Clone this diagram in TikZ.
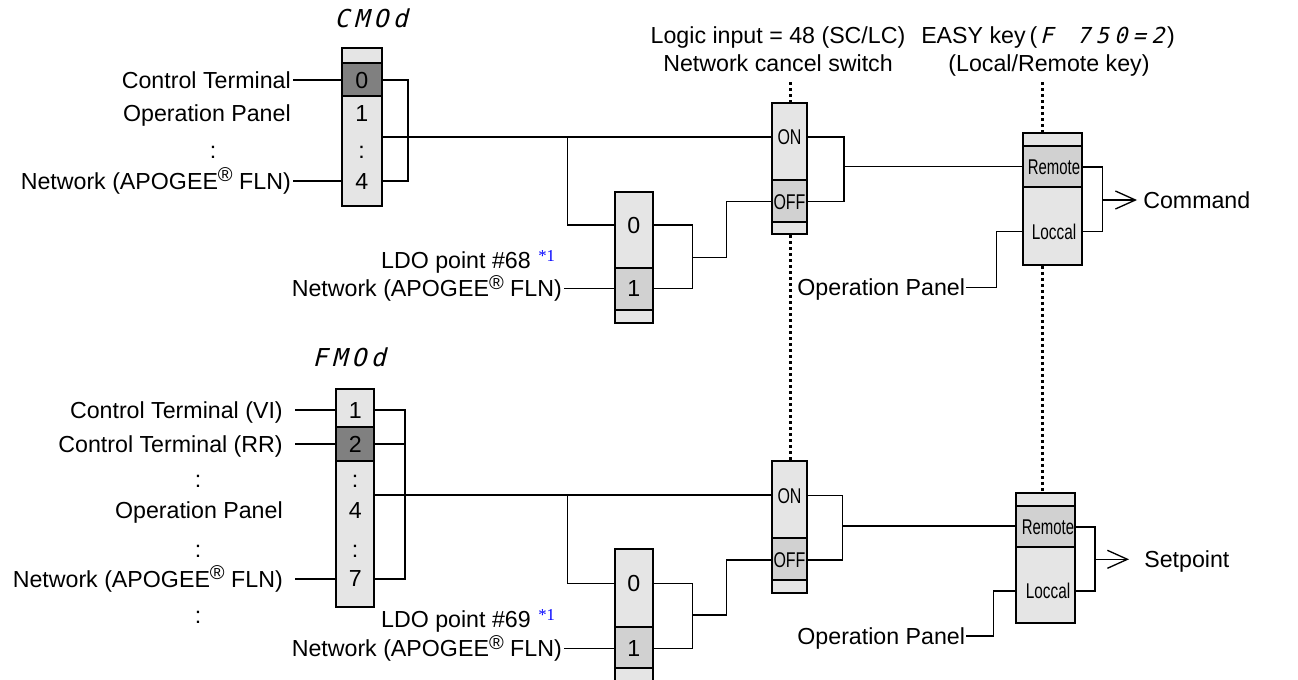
\documentclass[tikz,border=0pt]{standalone}
\usepackage{fontspec}
\setmainfont{Liberation Sans}
\newfontfamily\segfont[FakeSlant=0.25]{DejaVu Sans Mono}
\newfontfamily\notefont{Liberation Serif}
\usetikzlibrary{fit,arrows.meta}
\newcommand\sgA[1]{\makebox[14.6pt]{#1}}
\newcommand\sgB[1]{\makebox[13.9pt]{#1}}
\newcommand\segbig[1]{{\segfont\fontsize{18.5}{20}\selectfont #1}}
\newcommand\segsmall[1]{{\segfont\fontsize{16.5}{18}\selectfont #1}}
\newcommand\nar[1]{\scalebox{0.75}[1]{#1}}
\newcommand\regm{\raisebox{5.5pt}{\fontsize{15}{15}\selectfont\textregistered}}
\definecolor{lt}{gray}{0.9}
\definecolor{md}{gray}{0.82}
\definecolor{dk}{gray}{0.5}
\begin{document}
\begin{tikzpicture}[x=0.75pt,y=-0.75pt,
  lbl/.style={font=\fontsize{17.4}{20}\selectfont, inner ysep=0pt, inner xsep=1.5pt, text height=12.4pt, text depth=0pt},
  dig/.style={font=\fontsize{17.4}{20}\selectfont, inner sep=0pt, text height=12.4pt, text depth=0pt},
  nlbl/.style={font=\fontsize{16}{18}\selectfont, inner sep=0pt, text height=11.5pt, text depth=0pt},
  seg/.style={inner sep=0pt},
  note/.style={text=blue, font=\notefont\fontsize{12.5}{14}\selectfont, inner sep=0pt, anchor=base west},
  cell/.style={draw, line width=1.3pt, inner sep=0pt},
  wire/.style={line width=1pt},
  arr/.style={wire, -{Straight Barb[length=15pt, width=13.5pt, line width=1pt]}},
  dots/.style={line width=2.25pt, dash pattern=on 2.25pt off 2.25pt}]
\path[fill=white] (0,0) rectangle (1298,679);
\useasboundingbox (0,0) rectangle (1298,679);

% ---------------- titles
\node[lbl] (t1) at (778,35) {Logic input = 48 (SC/LC)};
\node[lbl] (t2) at (778,63) {Network cancel switch};
\node[lbl] (t3) at (1048,35) {EASY key\,(\segsmall{\sgB{F}\sgB{}\sgB{7}\sgB{5}\sgB{0}\sgB{=}\sgB{2}})};
\node[lbl] (t4) at (1049,63) {(Local/Remote key)};

% ================= TOP SECTION
\node[seg] (cmodl) at (371,18) {\segbig{\sgA{C}\sgA{M}\sgA{O}\sgA{d}}};
\node[cell, fill=lt, fit={(341.7,48.3)(381.7,63.3)}] (cmA) {};
\node[cell, fill=dk, fit={(341.7,63.3)(381.7,96)}] (cmB) {};
\node[cell, fill=lt, fit={(341.7,96)(381.7,205.7)}] (cmC) {};
\node[dig] (cm0) at (361.7,80) {0};
\node[dig] (cm1) at (361.7,113) {1};
\node[dig] (cmd) at (361.7,150) {:};
\node[dig] (cm4) at (361.7,181) {4};

\node[lbl, anchor=east] (ctA) at (293,80) {Control Terminal};
\node[lbl, anchor=east] (opA) at (293,113) {Operation Panel};
\node[lbl] (dA) at (213,150) {:};
\node[lbl, anchor=east] (nwA) at (293,181) {Network (APOGEE\regm\ FLN)};

\draw[wire] (ctA.east) -- (ctA.east -| cmB.west);
\draw[wire] (nwA.east) -- (nwA.east -| cmC.west);
\coordinate (cmV) at (408,137);
\draw[wire] (cm0 -| cmB.east) -| (cmV) |- (cm4 -| cmC.east);

% small box A
\node[cell, fill=lt, fit={(615,191.7)(652.7,268)}] (sbA1) {};
\node[cell, fill=md, fit={(615,268)(652.7,310)}] (sbA2) {};
\node[cell, fill=lt, fit={(615,310)(652.7,322.7)}] (sbA3) {};
\node[dig] (s0A) at (633.8,225) {0};
\node[dig] (s1A) at (633.8,288.3) {1};
\node[lbl, anchor=east] (ldoA) at (533,260) {LDO point \#68};
\node[note] (stA) at (538,261) {*1};
\node[lbl, anchor=east] (nwA2) at (564,288.3) {Network (APOGEE\regm\ FLN)};

% switch A
\node[cell, fill=lt, fit={(771.7,102.7)(807.3,180)}] (swA1) {};
\node[cell, fill=md, fit={(771.7,180)(807.3,221.7)}] (swA2) {};
\node[cell, fill=lt, fit={(771.7,221.7)(807.3,234.3)}] (swA3) {};
\node[nlbl] (onA) at (789.5,137) {\nar{ON}};
\node[nlbl] (offA) at (789.5,201.7) {\nar{OFF}};

% remote A
\node[cell, fill=lt, fit={(1023.3,133.3)(1082.3,146)}] (rmA1) {};
\node[cell, fill=md, fit={(1023.3,146)(1082.3,187.3)}] (rmA2) {};
\node[cell, fill=lt, fit={(1023.3,187.3)(1082.3,265)}] (rmA3) {};
\node[nlbl] (remA) at (1054,167) {\scalebox{0.7}[1]{Remote}};
\node[nlbl] (locA) at (1054,231.7) {\scalebox{0.72}[1]{Loccal}};
\node[lbl, anchor=west, inner xsep=4.5pt] (cmdA) at (1137,200) {Command};
\node[lbl, anchor=east, inner xsep=0.5pt] (opA2) at (966,287.3) {Operation Panel};

% wires A
\draw[wire] (cmC.east |- cmV) -- (cmV -| swA1.west);
\coordinate (brA) at (567.7,137);
\draw[wire] (brA) |- (s0A -| sbA1.west);
\draw[wire] (nwA2.east) -- (nwA2.east -| sbA2.west);
\coordinate (sjA) at (692.3,257.3);
\coordinate (sjA2) at (726.7,201.7);
\draw[wire] (s0A -| sbA1.east) -| (sjA) |- (s1A -| sbA2.east);
\draw[wire] (sjA) -| (sjA2) -- (offA -| swA2.west);
\coordinate (rjA) at (844,166.7);
\draw[wire] (onA -| swA1.east) -| (rjA) |- (offA -| swA2.east);
\draw[wire] (rjA) -- (rjA -| rmA2.west);
\coordinate (ojA) at (1102.3,200);
\draw[wire] (remA -| rmA2.east) -| (ojA) |- (locA -| rmA3.east);
\draw[arr] (ojA) -- (cmdA.west);
\coordinate (pjA) at (996.7,287.3);
\draw[wire] (opA2.east) -| (locA -| pjA) -- (locA -| rmA3.west);

% ================= BOTTOM SECTION
\node[seg] (fmodl) at (349,357) {\segbig{\sgA{F}\sgA{M}\sgA{O}\sgA{d}}};
\node[cell, fill=lt, fit={(336,389.3)(374.3,426.7)}] (fmA) {};
\node[cell, fill=dk, fit={(336,426.7)(374.3,461)}] (fmB) {};
\node[cell, fill=lt, fit={(336,461)(374.3,606.7)}] (fmC) {};
\node[dig] (f1) at (355.2,410) {1};
\node[dig] (f2) at (355.2,444) {2};
\node[dig] (fd1) at (355.2,479) {:};
\node[dig] (f4) at (355.2,510) {4};
\node[dig] (fd2) at (355.2,549) {:};
\node[dig] (f7) at (355.2,578) {7};

\node[lbl, anchor=east, inner xsep=9pt] (cvB) at (295,410) {Control Terminal (VI)};
\node[lbl, anchor=east, inner xsep=9pt] (crB) at (295,444) {Control Terminal (RR)};
\node[lbl] (dB1) at (198,479) {:};
\node[lbl, anchor=east, inner xsep=9pt] (opB) at (295,510) {Operation Panel};
\node[lbl] (dB2) at (198,549) {:};
\node[lbl, anchor=east, inner xsep=9pt] (nwB) at (295,579) {Network (APOGEE\regm\ FLN)};
\node[lbl] (dB3) at (198,615) {:};

\draw[wire] (cvB.east) -- (cvB.east -| fmA.west);
\draw[wire] (crB.east) -- (crB.east -| fmB.west);
\draw[wire] (nwB.east) -- (nwB.east -| fmC.west);
\coordinate (fmV) at (405,495);
\draw[wire] (f1 -| fmA.east) -| (fmV) |- (nwB.east -| fmC.east);
\draw[wire] (f2 -| fmB.east) -- (f2 -| fmV);

% small box B
\node[cell, fill=lt, fit={(615,549)(652.7,626.7)}] (sbB1) {};
\node[cell, fill=md, fit={(615,626.7)(652.7,668.3)}] (sbB2) {};
\node[cell, fill=lt, fit={(615,668.3)(652.7,681)}] (sbB3) {};
\node[dig] (s0B) at (633.8,583.3) {0};
\node[dig] (s1B) at (633.8,648.3) {1};
\node[lbl, anchor=east] (ldoB) at (533,619) {LDO point \#69};
\node[note] (stB) at (538,620) {*1};
\node[lbl, anchor=east] (nwB2) at (564,648.3) {Network (APOGEE\regm\ FLN)};

% switch B
\node[cell, fill=lt, fit={(771.7,461)(807.3,538.3)}] (swB1) {};
\node[cell, fill=md, fit={(771.7,538.3)(807.3,580)}] (swB2) {};
\node[cell, fill=lt, fit={(771.7,580)(807.3,592.7)}] (swB3) {};
\node[nlbl] (onB) at (789.5,495.7) {\nar{ON}};
\node[nlbl] (offB) at (789.5,560) {\nar{OFF}};

% remote B
\node[cell, fill=lt, fit={(1016,492.7)(1075,505.7)}] (rmB1) {};
\node[cell, fill=md, fit={(1016,505.7)(1075,546.7)}] (rmB2) {};
\node[cell, fill=lt, fit={(1016,546.7)(1075,623.3)}] (rmB3) {};
\node[nlbl] (remB) at (1048,527) {\scalebox{0.7}[1]{Remote}};
\node[nlbl] (locB) at (1048,591) {\scalebox{0.72}[1]{Loccal}};
\node[lbl, anchor=west, inner xsep=11.25pt] (spB) at (1129,559.3) {Setpoint};
\node[lbl, anchor=east, inner xsep=0.5pt] (opB2) at (966,636) {Operation Panel};

% wires B
\draw[wire] (fmC.east |- fmV) -- (fmV -| swB1.west);
\coordinate (brB) at (567.7,495);
\draw[wire] (brB) |- (s0B -| sbB1.west);
\draw[wire] (nwB2.east) -- (nwB2.east -| sbB2.west);
\coordinate (sjB) at (692.3,615);
\coordinate (sjB2) at (726.7,560);
\draw[wire] (s0B -| sbB1.east) -| (sjB) |- (s1B -| sbB2.east);
\draw[wire] (sjB) -| (sjB2) -- (offB -| swB2.west);
\coordinate (rjB) at (842.3,526);
\draw[wire] (onB -| swB1.east) -| (rjB) |- (offB -| swB2.east);
\draw[wire] (rjB) -- (rjB -| rmB2.west);
\coordinate (ojB) at (1095,559.3);
\draw[wire] (remB -| rmB2.east) -| (ojB) |- (locB -| rmB3.east);
\draw[arr] (ojB) -- (spB.west);
\coordinate (pjB) at (993.3,636);
\draw[wire] (opB2.east) -| (locB -| pjB) -- (locB -| rmB3.west);

% dotted mechanical links
\coordinate (dtA) at (790,82);
\draw[dots] (dtA) -- (dtA |- swA1.north);
\draw[dots] (dtA |- swA3.south) -- (dtA |- swB1.north);
\coordinate (deA) at (1042.3,82);
\draw[dots] (deA) -- (deA |- rmA1.north);
\draw[dots] (deA |- rmA3.south) -- (deA |- rmB1.north);
\end{tikzpicture}
\end{document}
